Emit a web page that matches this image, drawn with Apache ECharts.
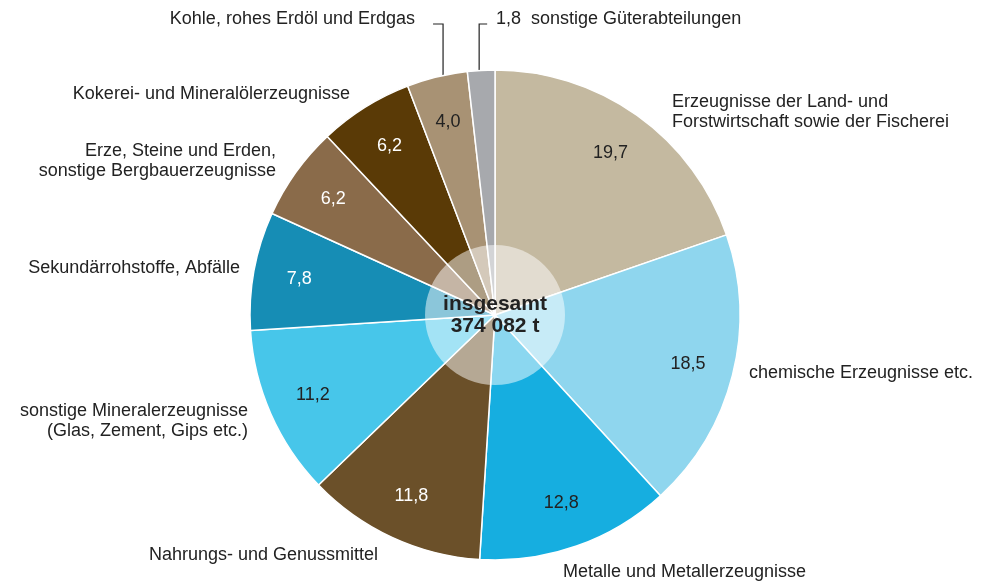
<!doctype html>
<html lang="de">
<head>
<meta charset="utf-8">
<script src="https://cdn.jsdelivr.net/npm/echarts@6/dist/echarts.min.js"></script>
<style>
    html, body { margin: 0; padding: 0; background: #fff; }
    #main { width: 983px; height: 582px; }
</style>
</head>
<body>
<div id="main"></div>
<script type="text/javascript">
    // Güterabteilungen, Anteil in %
    var categories = [
        'Erzeugnisse der Land- und\nForstwirtschaft sowie der Fischerei',
        'chemische Erzeugnisse etc.',
        'Metalle und Metallerzeugnisse',
        'Nahrungs- und Genussmittel',
        'sonstige Mineralerzeugnisse\n(Glas, Zement, Gips etc.)',
        'Sekundärrohstoffe, Abfälle',
        'Erze, Steine und Erden,\nsonstige Bergbauerzeugnisse',
        'Kokerei- und Mineralölerzeugnisse',
        'Kohle, rohes Erdöl und Erdgas',
        'sonstige Güterabteilungen'
    ];
    var shares = [19.7, 18.5, 12.8, 11.8, 11.2, 7.8, 6.2, 6.2, 4.0, 1.8];
    var totalText = 'insgesamt\n374 082 t';

    var colors = ['#c4b9a0', '#8fd6ee', '#16aee0', '#6b5029', '#47c6ea',
                  '#168db5', '#8a6b4a', '#5a3a06', '#a89274', '#a7a9ad'];
    var valueColors = ['#222', '#222', '#222', '#fff', '#222', '#fff', '#fff', '#fff', '#222', '#222'];

    // Lage der Beschriftungen aussen (x, y, Ausrichtung)
    var outerPos = [
        [672, 112, 'left'],
        [749, 373, 'left'],
        [563, 572, 'left'],
        [378, 555, 'right'],
        [248, 421, 'right'],
        [240, 268, 'right'],
        [276, 161, 'right'],
        [350, 94, 'right'],
        [415, 19, 'right'],
        [496, 19, 'left']
    ];

    function fmt(v) {
        return v.toFixed(1).replace('.', ',');
    }

    var center = [495, 315];
    var R = 245;
    var font = '"Liberation Sans", Arial, Helvetica, sans-serif';

    var mainData = [];
    var valueData = [];
    for (var i = 0; i < shares.length; i++) {
        mainData.push({
            name: categories[i],
            value: shares[i],
            itemStyle: { color: colors[i] },
            labelLine: { show: i >= 8 }
        });
        valueData.push({
            name: categories[i],
            value: shares[i],
            label: { show: i < 9, color: valueColors[i] }
        });
    }

    var myChart = echarts.init(document.getElementById('main'));
    myChart.setOption({
        backgroundColor: '#fff',
        animation: false,
        series: [{
            name: 'Anteil',
            type: 'pie',
            center: center,
            radius: [0, R],
            startAngle: 90,
            clockwise: true,
            avoidLabelOverlap: false,
            silent: true,
            itemStyle: { borderColor: '#fff', borderWidth: 1.5 },
            label: {
                show: true,
                position: 'outside',
                fontFamily: font,
                fontSize: 18,
                lineHeight: 20,
                color: '#222',
                formatter: function (p) {
                    if (p.dataIndex === 9) {
                        return fmt(p.value) + '  ' + p.name;
                    }
                    return p.name;
                }
            },
            labelLine: {
                show: true,
                lineStyle: { color: '#222', width: 1.2 }
            },
            labelLayout: function (params) {
                var k = params.dataIndex;
                var pos = outerPos[k];
                var res = {
                    x: pos[0],
                    y: pos[1],
                    align: pos[2],
                    verticalAlign: 'middle'
                };
                if (k >= 8 && params.labelLinePoints) {
                    // Klammer: senkrecht vom Rand nach oben, kurzer Haken zum Text
                    var x = params.labelLinePoints[0][0] + (k === 8 ? 6 : -2);
                    var dx = x - center[0];
                    var y0 = center[1] - Math.sqrt(R * R - dx * dx);
                    var dir = k === 8 ? -10 : 8;
                    res.labelLinePoints = [[x, y0], [x, 24], [x + dir, 24]];
                }
                return res;
            },
            data: mainData
        }, {
            name: 'Werte',
            type: 'pie',
            center: center,
            radius: [147, R],
            startAngle: 90,
            clockwise: true,
            silent: true,
            avoidLabelOverlap: false,
            itemStyle: { color: 'rgba(0,0,0,0)', borderWidth: 0 },
            label: {
                show: true,
                position: 'inside',
                fontFamily: font,
                fontSize: 18,
                formatter: function (p) { return fmt(p.value); }
            },
            labelLine: { show: false },
            data: valueData
        }, {
            name: 'insgesamt',
            type: 'pie',
            center: center,
            radius: [0, 70],
            silent: true,
            itemStyle: { color: 'rgba(255,255,255,0.5)', borderWidth: 0 },
            label: {
                show: true,
                position: 'center',
                fontFamily: font,
                fontSize: 21,
                fontWeight: 'bold',
                lineHeight: 22,
                color: '#222',
                formatter: totalText
            },
            labelLine: { show: false },
            data: [{ name: 'insgesamt', value: 1 }]
        }]
    });
</script>
</body>
</html>
